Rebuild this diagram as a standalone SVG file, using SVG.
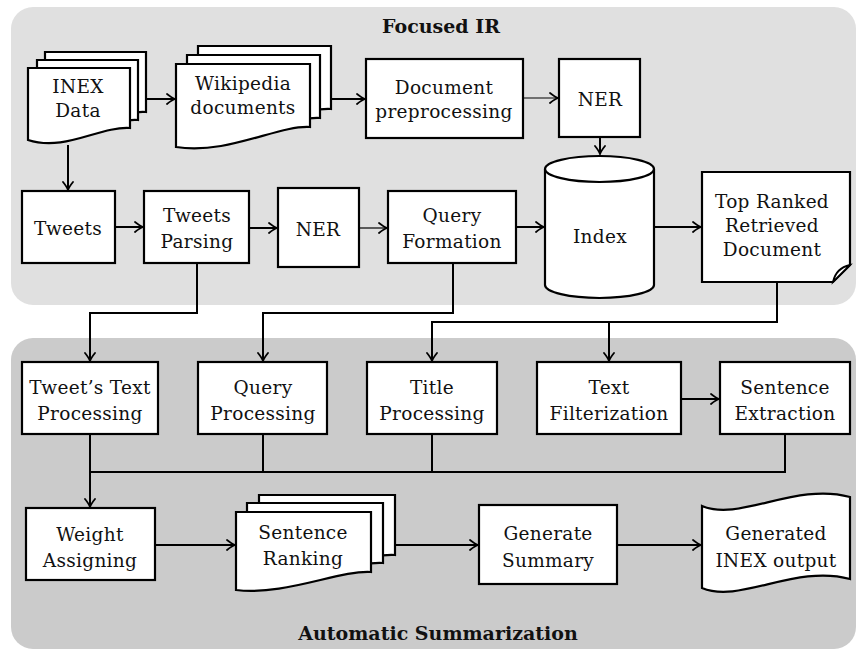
<svg xmlns="http://www.w3.org/2000/svg" width="862" height="651" viewBox="0 0 862 651">
<style>
.box{fill:#fff;stroke:#000;stroke-width:2.2}
.t{font-family:"DejaVu Serif","Liberation Serif",serif;font-size:18.5px;letter-spacing:0.3px;text-anchor:middle;fill:#111}
.title{font-family:"DejaVu Serif","Liberation Serif",serif;font-size:19px;font-weight:bold;text-anchor:middle;fill:#111}
.c{fill:none;stroke:#000;stroke-width:2}
.thin{fill:none;stroke:#000;stroke-width:1.2}
</style>
<defs>
<marker id="ar" viewBox="-10 -7 12 14" refX="0" refY="0" markerWidth="12" markerHeight="14" markerUnits="userSpaceOnUse" orient="auto">
<path d="M-8,-5 Q-3,-1 0,0 Q-3,1 -8,5" fill="none" stroke="#000" stroke-width="1.8" stroke-linecap="round"/>
</marker>
</defs>
<rect x="11" y="7" width="845" height="298" rx="22" fill="#e0e0e0"/>
<rect x="11" y="338" width="845" height="311" rx="22" fill="#cbcbcb"/>
<text class="title" x="441" y="33">Focused IR</text>
<text class="title" x="438" y="640">Automatic Summarization</text>

<g id="connectors">
<path class="c" d="M146,99 H175" marker-end="url(#ar)"/>
<path class="c" d="M331,99 H365" marker-end="url(#ar)"/>
<path class="thin" d="M523,98 H558" marker-end="url(#ar)"/>
<path class="c" d="M600,137 V154" marker-end="url(#ar)"/>
<path class="c" d="M68,145 V190" marker-end="url(#ar)"/>
<path class="c" d="M115,227 H143" marker-end="url(#ar)"/>
<path class="c" d="M249,228 H277" marker-end="url(#ar)"/>
<path class="thin" d="M359,228 H387" marker-end="url(#ar)"/>
<path class="c" d="M516,227 H544" marker-end="url(#ar)"/>
<path class="c" d="M654,227 H701" marker-end="url(#ar)"/>
<path class="c" d="M197,263 V313 H90 V361" marker-end="url(#ar)"/>
<path class="c" d="M453,263 V313 H263 V361" marker-end="url(#ar)"/>
<path class="c" d="M777,282 V322 H432 V361" marker-end="url(#ar)"/>
<path class="c" d="M609,322 V361" marker-end="url(#ar)"/>
<path class="c" d="M681,399 H719" marker-end="url(#ar)"/>
<path class="c" d="M263,434 V472"/>
<path class="c" d="M432,434 V472"/>
<path class="c" d="M785,434 V472 H90"/>
<path class="c" d="M90,434 V507" marker-end="url(#ar)"/>
<path class="c" d="M155,545 H235" marker-end="url(#ar)"/>
<path class="c" d="M395,545 H478" marker-end="url(#ar)"/>
<path class="c" d="M617,545 H701" marker-end="url(#ar)"/>
</g>

<g id="inex-data">
<path class="box" d="M45,52 H146 V112 C117,110 81,136 45,124 Z"/>
<path class="box" d="M37,60 H138 V120 C109,118 73,144 37,132 Z"/>
<path class="box" d="M28,68 H130 V128 C100,126 65,152 28,140 Z"/>
<text class="t" x="78" y="93">INEX</text>
<text class="t" x="78" y="117">Data</text>
</g>

<g id="wikipedia">
<path class="box" d="M198,46 H331 V109 C300,107 250,137 198,129 Z"/>
<path class="box" d="M187,55 H320 V118 C289,116 239,146 187,138 Z"/>
<path class="box" d="M176,64 H310 V127 C278,125 228,155 176,147 Z"/>
<text class="t" x="243" y="90">Wikipedia</text>
<text class="t" x="243" y="114">documents</text>
</g>

<g id="doc-preprocessing">
<rect class="box" x="366" y="59" width="157" height="79"/>
<text class="t" x="444" y="94">Document</text>
<text class="t" x="444" y="118">preprocessing</text>
</g>

<g id="ner1">
<rect class="box" x="559" y="59" width="81" height="78"/>
<text class="t" x="600" y="106">NER</text>
</g>

<g id="index">
<path class="box" d="M545,169 V285 A54.5,13 0 0 0 654,285 V169"/>
<ellipse class="box" cx="599.5" cy="169" rx="54.5" ry="13"/>
<text class="t" x="600" y="243">Index</text>
</g>

<g id="top-ranked">
<path class="box" d="M702,172 H850 V265 L833,282 H702 Z"/>
<path class="box" d="M850,265 L833,282 Q836,268 850,265 Z" style="stroke-width:1.8"/>
<text class="t" x="772" y="208">Top Ranked</text>
<text class="t" x="772" y="232">Retrieved</text>
<text class="t" x="772" y="256">Document</text>
</g>

<g id="tweets">
<rect class="box" x="22" y="191" width="93" height="72"/>
<text class="t" x="68" y="235">Tweets</text>
</g>

<g id="tweets-parsing">
<rect class="box" x="144" y="191" width="105" height="72"/>
<text class="t" x="197" y="222">Tweets</text>
<text class="t" x="197" y="248">Parsing</text>
</g>

<g id="ner2">
<rect class="box" x="278" y="188" width="81" height="79"/>
<text class="t" x="318" y="236">NER</text>
</g>

<g id="query-formation">
<rect class="box" x="388" y="191" width="128" height="72"/>
<text class="t" x="452" y="222">Query</text>
<text class="t" x="452" y="248">Formation</text>
</g>

<g id="tweet-text-processing">
<rect class="box" x="22" y="362" width="136" height="72"/>
<text class="t" x="90" y="394">Tweet’s Text</text>
<text class="t" x="90" y="420">Processing</text>
</g>

<g id="query-processing">
<rect class="box" x="198" y="362" width="129" height="72"/>
<text class="t" x="263" y="394">Query</text>
<text class="t" x="263" y="420">Processing</text>
</g>

<g id="title-processing">
<rect class="box" x="367" y="362" width="130" height="72"/>
<text class="t" x="432" y="394">Title</text>
<text class="t" x="432" y="420">Processing</text>
</g>

<g id="text-filterization">
<rect class="box" x="537" y="362" width="144" height="72"/>
<text class="t" x="609" y="394">Text</text>
<text class="t" x="609" y="420">Filterization</text>
</g>

<g id="sentence-extraction">
<rect class="box" x="720" y="362" width="130" height="72"/>
<text class="t" x="785" y="394">Sentence</text>
<text class="t" x="785" y="420">Extraction</text>
</g>

<g id="weight-assigning">
<rect class="box" x="26" y="508" width="129" height="72"/>
<text class="t" x="90" y="541">Weight</text>
<text class="t" x="90" y="567">Assigning</text>
</g>

<g id="sentence-ranking">
<path class="box" d="M259,495 H395 V555 C363,553 309,579 259,573 Z"/>
<path class="box" d="M247,503 H383 V563 C351,561 297,587 247,581 Z"/>
<path class="box" d="M236,512 H371 V572 C339,570 285,596 236,590 Z"/>
<text class="t" x="303" y="539">Sentence</text>
<text class="t" x="303" y="565">Ranking</text>
</g>

<g id="generate-summary">
<rect class="box" x="479" y="505" width="138" height="79"/>
<text class="t" x="548" y="540">Generate</text>
<text class="t" x="548" y="567">Summary</text>
</g>

<g id="generated-output">
<path class="box" d="M702,506 C740,522 795,482 850,497 V579 C795,564 740,604 702,588 Z"/>
<text class="t" x="776" y="540">Generated</text>
<text class="t" x="776" y="567">INEX output</text>
</g>
</svg>
